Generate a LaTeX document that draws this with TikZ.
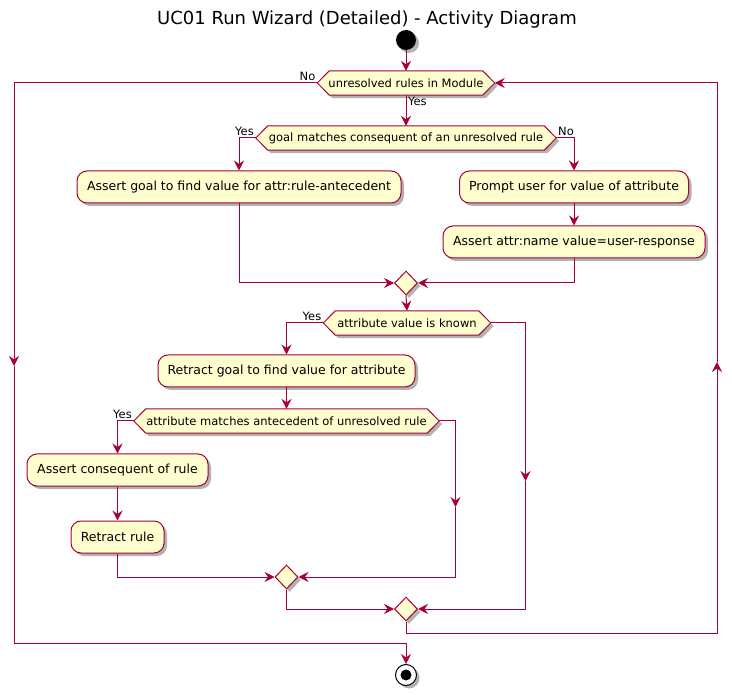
\documentclass[tikz,border=0pt]{standalone}
\usepackage{fontspec}
\setmainfont{DejaVu Sans}
\usetikzlibrary{arrows.meta,shapes.geometric,shadows,backgrounds}

\definecolor{umlred}{HTML}{A80036}
\definecolor{umlfill}{HTML}{FEFECE}

\tikzset{
  flow/.style={draw=umlred, line width=1pt, -{Stealth[length=10pt,width=10pt,inset=3.5pt]}},
  umlshadow/.style={drop shadow={shadow xshift=3pt, shadow yshift=-3pt, opacity=0.3, fill=black}},
  action/.style={rectangle, rounded corners=10pt, draw=umlred, line width=1pt, fill=umlfill, umlshadow,
    minimum height=32pt, inner sep=0pt, font=\fontsize{12.5}{14}\selectfont},
  decision/.style={rectangle, minimum height=24pt, inner sep=0pt, font=\fontsize{11.5}{13}\selectfont},
  hexa/.style={draw=umlred, line width=1pt, fill=umlfill, umlshadow},
  merge/.style={diamond, draw=umlred, line width=1pt, fill=umlfill, umlshadow,
    minimum width=23pt, minimum height=24pt, inner sep=0pt},
  lbl/.style={font=\fontsize{11.5}{13}\selectfont, inner sep=1.5pt},
}

\begin{document}
\begin{tikzpicture}[x=1pt, y=-1pt]
  \useasboundingbox (0,0) rectangle (732,695);
  % title
  \node (title) at (367,20) {\fontsize{18}{22}\selectfont UC01 Run Wizard (Detailed) - Activity Diagram};
  % start and stop
  \node[circle, fill=black, minimum size=20pt, inner sep=0pt, umlshadow] (start) at (406,40) {};
  \node[circle, draw=black, line width=1pt, fill=white, minimum size=21pt, inner sep=0pt, umlshadow,
    path picture={\fill[black] (path picture bounding box.center) circle (5.5pt);}] (stop) at (406,675) {};
  % decisions
  \node[decision, minimum width=177pt] (d1) at (406,83) {unresolved rules in Module};
  \node[decision, minimum width=300pt] (d2) at (406,138) {goal matches consequent of an unresolved rule};
  \node[decision, minimum width=167pt] (d3) at (407,323) {attribute value is known};
  \node[decision, minimum width=305pt] (d4) at (286.5,421) {attribute matches antecedent of unresolved rule};
  % actions
  \node[action, minimum width=324pt] (a1) at (239,187) {Assert goal to find value for attr:rule-antecedent};
  \node[action, minimum width=229pt] (a2) at (574,187) {Prompt user for value of attribute};
  \node[action, minimum width=262pt] (a3) at (574,242) {Assert attr:name value=user-response};
  \node[action, minimum width=257pt] (a4) at (286.5,371) {Retract goal to find value for attribute};
  \node[action, minimum width=181pt] (a5) at (117.5,470) {Assert consequent of rule};
  \node[action, minimum width=93pt] (a6) at (117.5,537) {Retract rule};
  % merges
  \node[merge] (m1) at (406,283) {};
  \node[merge] (m2) at (286.5,577) {};
  \node[merge] (m3) at (406,609) {};
  % hexagons behind the decision texts
  \begin{scope}[on background layer]
    \foreach \d in {d1,d2,d3,d4}
      \path[hexa] (\d.west) -- ([xshift=12pt]\d.north west) -- ([xshift=-12pt]\d.north east)
        -- (\d.east) -- ([xshift=-12pt]\d.south east) -- ([xshift=12pt]\d.south west) -- cycle;
  \end{scope}
  % bends of the long lines
  \coordinate (noTop) at (14,83);
  \coordinate (noMid) at (14,366);
  \coordinate (noBot) at (14,643);
  \coordinate (loopBot) at (717,633);
  \coordinate (loopMid) at (717,362);
  \coordinate (knownMid) at (525.5,481);
  \coordinate (matchMid) at (455.5,507);
  % main column
  \draw[flow] (start.south) -- (d1.north);
  \draw[flow] (d1.south) node[lbl, anchor=north west] {Yes} -- (d2.north);
  \draw[flow] (d2.west) node[lbl, anchor=south east] {Yes} -| (a1.north);
  \draw[flow] (d2.east) node[lbl, anchor=south west] {No} -| (a2.north);
  \draw[flow] (a2.south) -- (a3.north);
  \draw[flow] (a1.south) |- (m1.west);
  \draw[flow] (a3.south) |- (m1.east);
  \draw[flow] (m1.south) -- (d3.north);
  % attribute known
  \draw[flow] (d3.west) node[lbl, anchor=south east] {Yes} -| (a4.north);
  \draw[flow] (d3.east) -| (knownMid);
  \draw[flow] (knownMid) |- (m3.east);
  \draw[flow] (a4.south) -- (d4.north);
  \draw[flow] (d4.west) node[lbl, anchor=south east] {Yes} -| (a5.north);
  \draw[flow] (d4.east) -| (matchMid);
  \draw[flow] (matchMid) |- (m2.east);
  \draw[flow] (a5.south) -- (a6.north);
  \draw[flow] (a6.south) |- (m2.west);
  \draw[flow] (m2.south) |- (m3.west);
  % loop back
  \draw[flow] (m3.south) |- (loopBot) -- (loopMid);
  \draw[flow] (loopMid) |- (d1.east);
  % no more rules
  \draw[flow] (d1.west) node[lbl, anchor=south east] {No} -- (noTop) -- (noMid);
  \draw[flow] (noMid) -- (noBot) -| (stop.north);
\end{tikzpicture}
\end{document}
